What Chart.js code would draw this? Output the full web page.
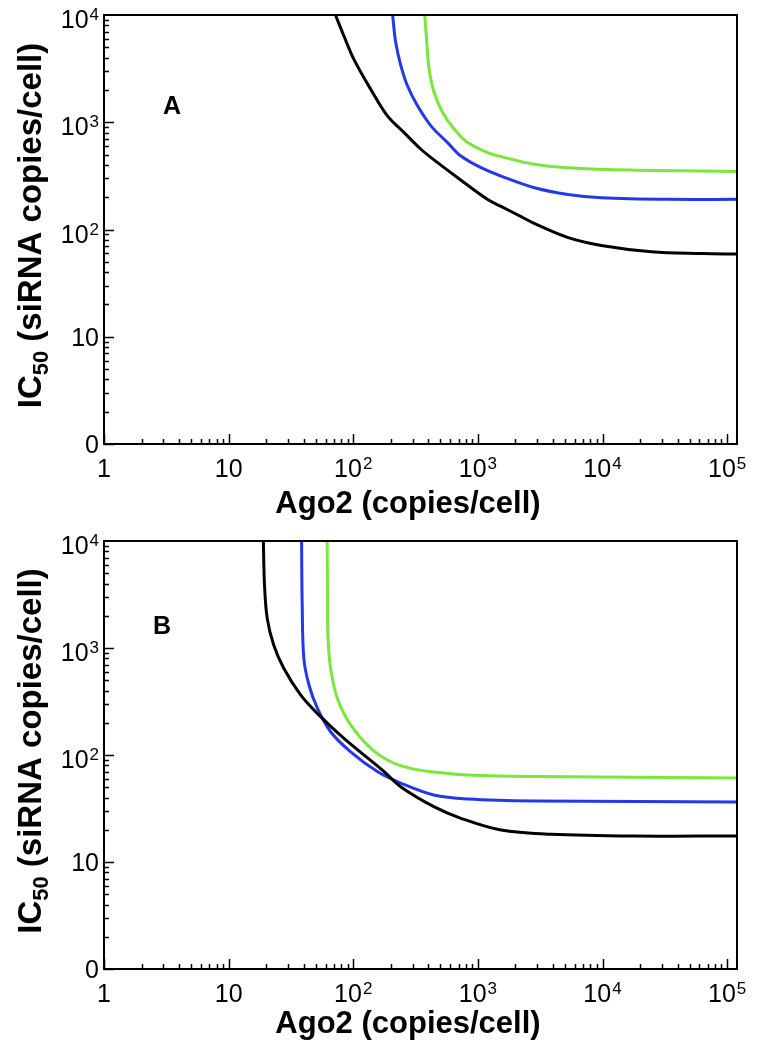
<!DOCTYPE html>
<html>
<head>
<meta charset="utf-8">
<script src="https://cdn.jsdelivr.net/npm/chart.js@4.4.1/dist/chart.umd.min.js"></script>
<style>
  body { margin: 0; background: #fff; }
  .panel { position: relative; width: 766px; }
</style>
</head>
<body>
<div class="panel" style="height:523px"><canvas id="chartA"></canvas></div>
<div class="panel" style="height:524px"><canvas id="chartB"></canvas></div>
<script>
// axes
const xTicks = [1, 10, 100, 1000, 10000, 100000];
const xTickLabels = ['1', '10', '10^2', '10^3', '10^4', '10^5'];
const yTicks = [1, 10, 100, 1000, 10000];
const yTickLabels = ['0', '10', '10^2', '10^3', '10^4'];

// panel A  (Ago2 copies/cell -> IC50 siRNA copies/cell)
const agoA_black = [72, 84, 101, 138, 188, 256, 349, 475, 688, 1199, 1534, 2222, 2827, 5306, 9780, 24700, 62400, 120000];
const icA_black  = [10000, 6410, 3880, 2032, 1145, 800, 560, 420, 304, 190, 164, 132, 114, 84, 71, 62, 59.7, 59];
const agoA_blue  = [207, 219, 241, 272, 328, 420, 571, 731, 1059, 1534, 2850, 5275, 9780, 33700, 120000];
const icA_blue   = [10000, 5560, 3370, 2188, 1422, 925, 646, 484, 377, 315, 245, 212, 198, 191, 191];
const agoA_green = [375, 389, 406, 446, 521, 646, 827, 1199, 1534, 2850, 5275, 17000, 120000];
const icA_green  = [10000, 5560, 3126, 1892, 1231, 861, 646, 521, 478, 405, 377, 358, 348];

// panel B
const agoB_black = [19, 19.4, 20.4, 23, 27.7, 37.8, 51.4, 84.2, 177, 240, 443, 731, 1534, 3870, 18000, 120000];
const icB_black  = [10000, 3880, 1892, 1067, 646, 364, 245, 143, 70, 50.6, 32.9, 25.6, 19.9, 18.2, 17.5, 17.5];
const agoB_blue  = [38.5, 38.9, 40.1, 44, 51.4, 65.8, 95.3, 156, 240, 443, 832, 2827, 120000];
const icB_blue   = [10000, 2735, 809, 456, 276, 165, 107, 70, 54.7, 42.3, 38.8, 37.2, 36.4];
const agoB_green = [61.8, 62.1, 62.6, 65.8, 74.5, 95.3, 138, 200, 290, 443, 832, 2827, 120000];
const icB_green  = [10000, 3600, 1321, 646, 339, 191, 116, 86.5, 75, 69.4, 65, 62.9, 61];

const FONT = '"Liberation Sans", Arial, Helvetica, sans-serif';

function line(xs, ys, color) {
  return {
    data: xs.map((x, i) => ({ x: x, y: ys[i] })),
    borderColor: color,
    borderWidth: 3,
    pointRadius: 0,
    showLine: true,
    fill: false,
    tension: 0.35
  };
}

// label like '10^3' -> 10 with superscript 3
function drawTickLabel(ctx, text, x, y, align) {
  const parts = text.split('^');
  ctx.font = '25px ' + FONT;
  const bw = ctx.measureText(parts[0]).width;
  let sw = 0;
  if (parts[1]) {
    ctx.font = '17px ' + FONT;
    sw = ctx.measureText(parts[1]).width + 1;
  }
  const left = align === 'right' ? x - bw - sw : x - (bw + sw) / 2;
  ctx.textAlign = 'left';
  ctx.textBaseline = 'alphabetic';
  ctx.font = '25px ' + FONT;
  ctx.fillText(parts[0], left, y);
  if (parts[1]) {
    ctx.font = '17px ' + FONT;
    ctx.fillText(parts[1], left + bw + 1, y - 8);
  }
}

const framePlugin = {
  id: 'frame',
  afterDraw(chart, args, opts) {
    const ctx = chart.ctx;
    const a = chart.chartArea;
    const xs = chart.scales.x, ys = chart.scales.y;
    ctx.save();
    ctx.fillStyle = '#000';
    ctx.strokeStyle = '#000';

    // inward ticks
    ctx.lineWidth = 1.5;
    ctx.beginPath();
    for (let d = 0; d < 5; d++) {
      for (let k = 1; k < 10; k++) {
        const v = k * Math.pow(10, d);
        const len = k === 1 ? 10 : 5;
        const px = Math.round(xs.getPixelForValue(v)) + 0.5;
        ctx.moveTo(px, a.bottom);
        ctx.lineTo(px, a.bottom - len);
        if (d < 4) {
          const py = Math.round(ys.getPixelForValue(v)) + 0.5;
          ctx.moveTo(a.left, py);
          ctx.lineTo(a.left + len, py);
        }
      }
    }
    const p5 = Math.round(xs.getPixelForValue(100000)) + 0.5;
    ctx.moveTo(p5, a.bottom);
    ctx.lineTo(p5, a.bottom - 10);
    ctx.stroke();

    // frame
    ctx.lineWidth = 2;
    ctx.strokeRect(a.left, a.top, a.right - a.left, a.bottom - a.top);

    // tick labels
    xTicks.forEach((v, i) => {
      drawTickLabel(ctx, xTickLabels[i], xs.getPixelForValue(v), a.bottom + 33, 'center');
    });
    yTicks.forEach((v, i) => {
      const sup = yTickLabels[i].indexOf('^') >= 0;
      drawTickLabel(ctx, yTickLabels[i], 99, ys.getPixelForValue(v) + (sup ? 13 : 9), 'right');
    });

    // x title
    ctx.font = 'bold 31px ' + FONT;
    ctx.textAlign = 'center';
    ctx.fillText('Ago2 (copies/cell)', 408, opts.xTitleY);

    // y title with subscript
    ctx.translate(41, (a.top + a.bottom) / 2 - 4);
    ctx.rotate(-Math.PI / 2);
    ctx.textAlign = 'left';
    ctx.font = 'bold 33px ' + FONT;
    const w1 = ctx.measureText('IC').width;
    const w3 = ctx.measureText(' (siRNA copies/cell)').width;
    ctx.font = 'bold 22px ' + FONT;
    const w2 = ctx.measureText('50').width;
    let x0 = -(w1 + w2 + w3) / 2;
    ctx.font = 'bold 33px ' + FONT;
    ctx.fillText('IC', x0, 0);
    ctx.font = 'bold 22px ' + FONT;
    ctx.fillText('50', x0 + w1, 7);
    ctx.font = 'bold 33px ' + FONT;
    ctx.fillText(' (siRNA copies/cell)', x0 + w1 + w2, 0);
    ctx.restore();

    // panel letter
    ctx.save();
    ctx.font = 'bold 25px ' + FONT;
    ctx.textAlign = 'center';
    ctx.textBaseline = 'middle';
    ctx.fillStyle = '#000';
    ctx.fillText(opts.letter, opts.letterX, opts.letterY);
    ctx.restore();
  }
};

function makeChart(id, datasets, cfg) {
  return new Chart(document.getElementById(id), {
    type: 'scatter',
    data: { datasets: datasets },
    options: {
      responsive: true,
      maintainAspectRatio: false,
      animation: false,
      layout: { padding: { top: cfg.top, right: 29, left: 0, bottom: 0 } },
      plugins: {
        legend: { display: false },
        tooltip: { enabled: false },
        frame: cfg
      },
      scales: {
        x: {
          type: 'logarithmic', min: 1, max: 120000,
          ticks: { display: false },
          grid: { display: false },
          border: { display: false },
          afterFit: function (s) { s.height = cfg.xHeight; }
        },
        y: {
          type: 'logarithmic', min: 1, max: 10000,
          ticks: { display: false },
          grid: { display: false },
          border: { display: false },
          afterFit: function (s) { s.width = 104; }
        }
      }
    },
    plugins: [framePlugin]
  });
}

const BLACK = '#000000', BLUE = '#2438e8', GREEN = '#7be63c';

makeChart('chartA', [
  line(agoA_black, icA_black, BLACK),
  line(agoA_blue, icA_blue, BLUE),
  line(agoA_green, icA_green, GREEN)
], { top: 15, xHeight: 79, xTitleY: 513, letter: 'A', letterX: 172, letterY: 107 });

makeChart('chartB', [
  line(agoB_black, icB_black, BLACK),
  line(agoB_blue, icB_blue, BLUE),
  line(agoB_green, icB_green, GREEN)
], { top: 18, xHeight: 78, xTitleY: 510, letter: 'B', letterX: 162, letterY: 104 });
</script>
</body>
</html>
